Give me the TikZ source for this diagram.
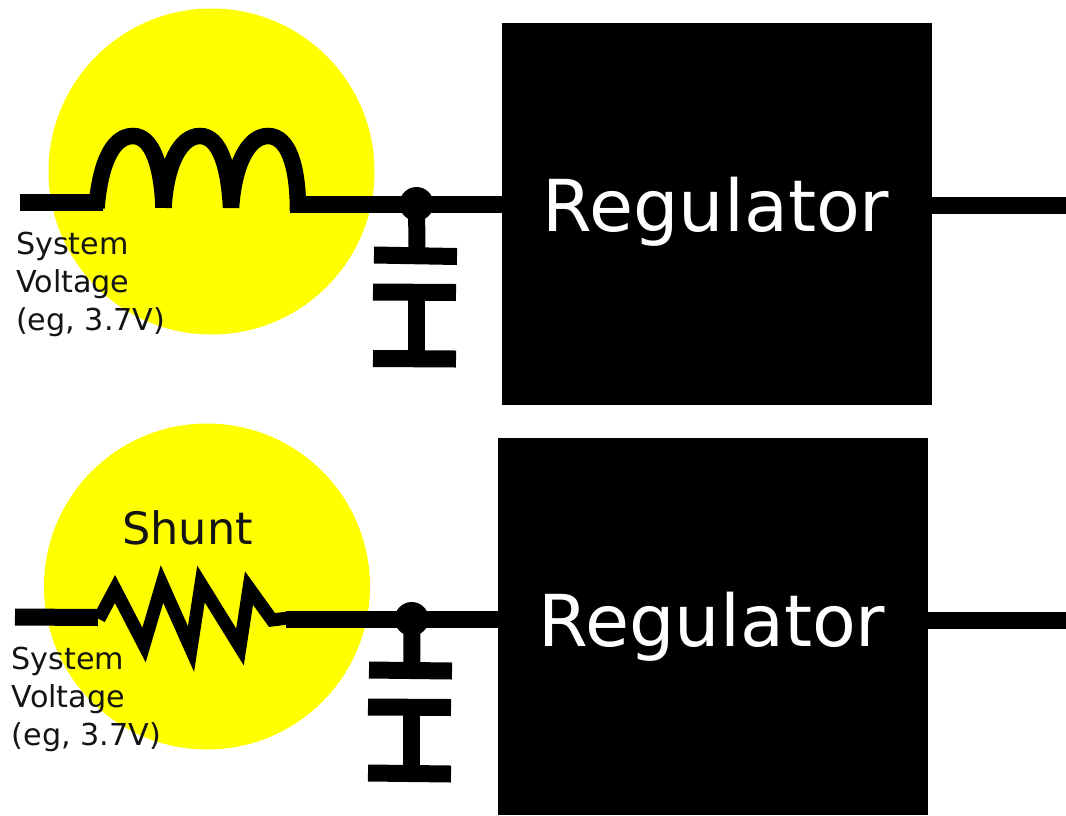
\documentclass[tikz,border=0pt]{standalone}
\usepackage{fontspec}
\setmainfont{DejaVu Sans}
\definecolor{halo}{RGB}{255,255,0}
\definecolor{ink}{RGB}{20,20,20}
\tikzset{
  x=1pt,y=-1pt,
  halodisc/.style={circle,fill=halo,draw=none,minimum size=326pt,inner sep=0pt},
  regbox/.style={fill=black,draw=none,minimum width=430pt,inner sep=0pt,anchor=north west},
  reglabel/.style={text=white,font=\fontsize{71.6}{71.6}\selectfont,inner sep=0pt,anchor=base},
  smalllabel/.style={text=ink,font=\fontsize{30.2}{30.2}\selectfont,inner sep=0pt,anchor=base west},
  shuntlabel/.style={text=ink,font=\fontsize{44.6}{44.6}\selectfont,inner sep=0pt,anchor=base west},
  wire/.style={line width=17pt,line cap=butt,draw=black},
  coil/.style={line width=16.5pt,line cap=butt,line join=miter,draw=black},
  zig/.style={line width=13pt,line cap=butt,line join=miter,miter limit=10,draw=black},
  junction/.style={circle,fill=black,draw=none,minimum size=34pt,inner sep=0pt},
}
\begin{document}
\begin{tikzpicture}
\useasboundingbox (0,0) rectangle (1066,815);
\fill[white] (0,0) rectangle (1066,815);
% ---------- top
\node[halodisc] (h1) at (211.5,171.5) {};
\node[regbox,minimum height=382pt] (r1) at (502,23) {};
\node[reglabel] (rl1) at (716,231) {Regulator};
\coordinate (a1) at (20,202.5);
\coordinate (b1) at (103,202.5);
\coordinate (c1) at (290,204.5);
\coordinate (e1) at (1066,205.5);
\node[junction] (j1) at (416.5,204) {};
\draw[wire] (a1) -- (b1);
\draw[wire] (c1) -- (r1.west |- c1);
\draw[wire] (r1.east |- e1) -- (e1);
\draw[coil] (96.5,208) .. controls (100,165) and (112,136) .. (133,136)
  .. controls (153,136) and (162,168) .. (163.5,207.5)
  .. controls (166,165) and (180,136) .. (200,136)
  .. controls (220,136) and (229,168) .. (231,207.5)
  .. controls (234,165) and (248,136) .. (268,136)
  .. controls (288,136) and (298,165) .. (298,211);
\draw[wire] (j1.center) -- (417,250);
\draw[wire] (374,255) -- (457,256.5);
\draw[wire] (373,292) -- (456,292.5);
\draw[wire] (416.5,295) -- (416.5,355);
\draw[wire] (373,358.5) -- (456,359);
\node[smalllabel] (s1a) at (16,254) {System};
\node[smalllabel] (s1b) at (16,292) {Voltage};
\node[smalllabel] (s1c) at (16,330) {(eg, 3.7V)};
% ---------- bottom
\node[halodisc] (h2) at (207,586.5) {};
\node[regbox,minimum height=377pt] (r2) at (498,438) {};
\node[reglabel] (rl2) at (712,646) {Regulator};
\coordinate (a2) at (15,617);
\coordinate (b2) at (98,617.5);
\coordinate (c2) at (286,619.5);
\coordinate (e2) at (1066,620.5);
\node[junction] (j2) at (411.7,619) {};
\draw[wire] (a2) -- (b2);
\draw[wire] (c2) -- (r2.west |- c2);
\draw[wire] (r2.east |- e2) -- (e2);
\draw[zig] (99,619) -- (115,589) -- (144,645) -- (162,584) -- (191,649) -- (201,584) -- (240,647) -- (249,588) -- (272,620) -- (288,618);
\draw[wire] (j2.center) -- (412,665);
\draw[wire] (369,670) -- (452,671);
\draw[wire] (368,707) -- (451,707.5);
\draw[wire] (411.7,710) -- (411.7,770);
\draw[wire] (368,773) -- (451,774);
\node[smalllabel] (s2a) at (11.5,669) {System};
\node[smalllabel] (s2b) at (11.5,707) {Voltage};
\node[smalllabel] (s2c) at (11.5,745) {(eg, 3.7V)};
\node[shuntlabel] (sh) at (122,544) {Shunt};
\end{tikzpicture}
\end{document}
